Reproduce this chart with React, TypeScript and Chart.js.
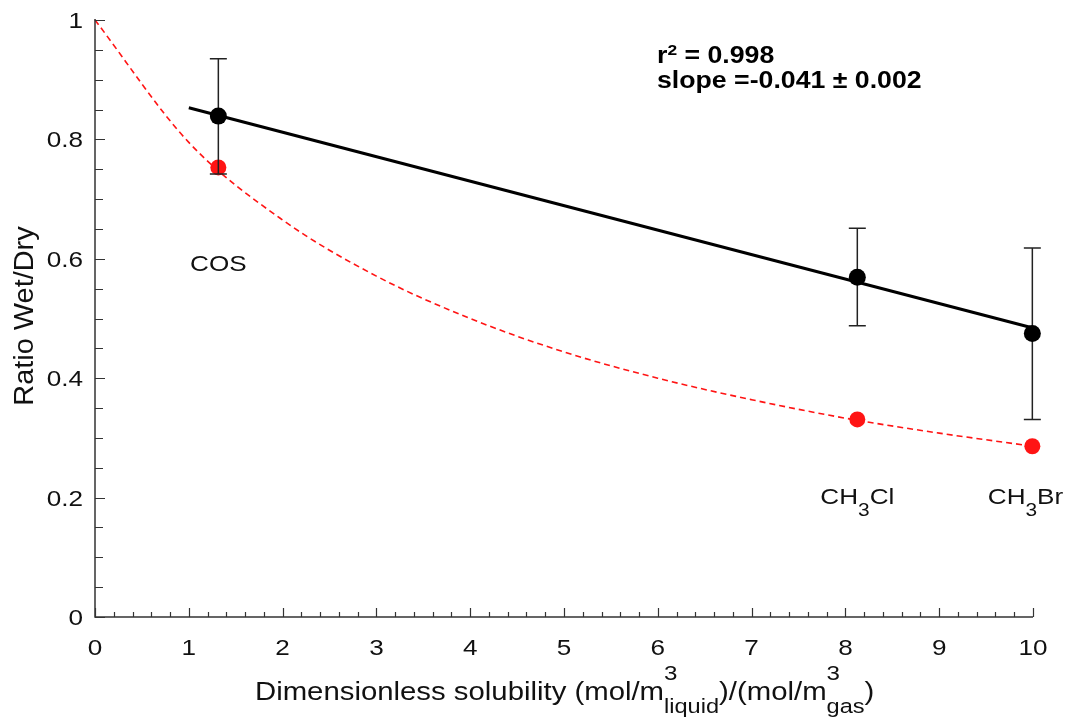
import React, { useEffect, useRef } from "react";
import { Chart, registerables } from "chart.js";

Chart.register(...registerables);

// ---- data ----
const compounds = ["COS", "CH3Cl", "CH3Br"];
const solubility = [1.315, 8.127, 9.993];
const ratioMeasured = [0.839, 0.569, 0.475];
const errUpper = [0.935, 0.651, 0.618];
const errLower = [0.742, 0.488, 0.331];
const ratioModel = [0.753, 0.331, 0.286];

const curveX = [0, 1, 2, 3, 4, 5, 6, 7, 8, 9, 10];
const curveY = [1.0, 0.795, 0.665, 0.571, 0.5, 0.444, 0.4, 0.364, 0.333, 0.308, 0.286];

const fitX = [1, 10];
const fitY = [0.853, 0.484];

const xTickLabels = ["0", "1", "2", "3", "4", "5", "6", "7", "8", "9", "10"];
const yTickLabels = ["0", "0.2", "0.4", "0.6", "0.8", "1"];

const labelX = [1.315, 8.127, 9.92];
const labelY = [0.58, 0.19, 0.19];

const annotationLine1 = ["r", "2", " = 0.998"];
const annotationLine2 = "slope =-0.041 \u00B1 0.002";

const RED = "#ff1414";
const AXIS = "#333333";
const FAMILY = '"Liberation Sans", Arial, Helvetica, sans-serif';
const SX = 1.16;

type Seg = { t: string; size: number; dy: number; bold?: boolean; stack?: boolean };

function font(size: number, bold?: boolean) {
  return `${bold ? "bold " : ""}${size}px ${FAMILY}`;
}

function drawRich(
  ctx: CanvasRenderingContext2D,
  segs: Seg[],
  x: number,
  y: number,
  align: "left" | "center" | "right",
  sx: number,
  color: string
) {
  ctx.save();
  ctx.textBaseline = "alphabetic";
  ctx.textAlign = "left";
  const pos: number[] = [];
  let cx = 0;
  let i = 0;
  while (i < segs.length) {
    const s = segs[i];
    ctx.font = font(s.size, s.bold);
    const w = ctx.measureText(s.t).width;
    if (s.stack && i + 1 < segs.length) {
      const n = segs[i + 1];
      ctx.font = font(n.size, n.bold);
      const w2 = ctx.measureText(n.t).width;
      pos[i] = cx;
      pos[i + 1] = cx;
      cx += Math.max(w, w2);
      i += 2;
    } else {
      pos[i] = cx;
      cx += w;
      i += 1;
    }
  }
  const total = cx * sx;
  let start = x;
  if (align === "center") start = x - total / 2;
  else if (align === "right") start = x - total;
  ctx.translate(start, y);
  ctx.scale(sx, 1);
  ctx.fillStyle = color;
  segs.forEach((s, k) => {
    ctx.font = font(s.size, s.bold);
    ctx.fillText(s.t, pos[k], s.dy);
  });
  ctx.restore();
}

function chemSegs(name: string, size: number): Seg[] {
  const m = name.match(/^([A-Za-z]+?)(\d)(.*)$/);
  if (!m) return [{ t: name, size, dy: 0 }];
  return [
    { t: m[1], size, dy: 0 },
    { t: m[2], size: size * 0.8, dy: 12 },
    { t: m[3], size, dy: 0 },
  ];
}

const overlayPlugin = {
  id: "overlay",
  beforeDatasetDraw(chart: any, args: any) {
    if (args.index !== 3) return;
    const ctx = chart.ctx as CanvasRenderingContext2D;
    const xs = chart.scales.x;
    const ys = chart.scales.y;
    ctx.save();
    ctx.strokeStyle = "#222";
    ctx.lineWidth = 1.5;
    solubility.forEach((sv, i) => {
      const px = xs.getPixelForValue(sv);
      const top = ys.getPixelForValue(errUpper[i]);
      const bot = ys.getPixelForValue(errLower[i]);
      ctx.beginPath();
      ctx.moveTo(px, top);
      ctx.lineTo(px, bot);
      ctx.moveTo(px - 8.5, top);
      ctx.lineTo(px + 8.5, top);
      ctx.moveTo(px - 8.5, bot);
      ctx.lineTo(px + 8.5, bot);
      ctx.stroke();
    });
    ctx.restore();
  },
  afterDraw(chart: any) {
    const ctx = chart.ctx as CanvasRenderingContext2D;
    const xs = chart.scales.x;
    const ys = chart.scales.y;
    const area = chart.chartArea;
    ctx.save();
    ctx.strokeStyle = AXIS;
    ctx.lineWidth = 1.5;
    ctx.beginPath();
    ctx.moveTo(area.left, area.top - 1);
    ctx.lineTo(area.left, area.bottom);
    ctx.lineTo(area.right, area.bottom);
    ctx.stroke();
    ctx.lineWidth = 1.2;
    ctx.beginPath();
    const xMax = Number(xTickLabels[xTickLabels.length - 1]);
    for (let k = 0; k <= xMax * 5; k++) {
      const v = k / 5;
      const px = Math.round(xs.getPixelForValue(v)) + 0.5;
      const len = k % 5 === 0 ? 9 : 5;
      ctx.moveTo(px, area.bottom);
      ctx.lineTo(px, area.bottom - len);
    }
    const yMax = Number(yTickLabels[yTickLabels.length - 1]);
    for (let k = 0; k <= yMax * 20; k++) {
      const v = k / 20;
      const py = Math.round(ys.getPixelForValue(v)) + 0.5;
      const len = k % 4 === 0 ? 10 : 8;
      ctx.moveTo(area.left, py);
      ctx.lineTo(area.left + len, py);
    }
    ctx.stroke();
    ctx.restore();

    xTickLabels.forEach((lab) => {
      const px = xs.getPixelForValue(Number(lab));
      drawRich(ctx, [{ t: lab, size: 22.5, dy: 0 }], px, area.bottom + 38, "center", SX, "#111");
    });
    yTickLabels.forEach((lab) => {
      const py = ys.getPixelForValue(Number(lab));
      drawRich(ctx, [{ t: lab, size: 22.5, dy: 0 }], area.left - 12, py + 8, "right", SX, "#111");
    });

    drawRich(
      ctx,
      [
        { t: "Dimensionless solubility (mol/m", size: 25.5, dy: 0 },
        { t: "3", size: 21, dy: -20, stack: true },
        { t: "liquid", size: 20.5, dy: 13 },
        { t: ")/(mol/m", size: 25.5, dy: 0 },
        { t: "3", size: 21, dy: -20, stack: true },
        { t: "gas", size: 20.5, dy: 13 },
        { t: ")", size: 25.5, dy: 0 },
      ],
      255,
      700,
      "left",
      1.15,
      "#111"
    );

    ctx.save();
    ctx.translate(33, 316);
    ctx.rotate(-Math.PI / 2);
    ctx.scale(1.07, 1);
    ctx.font = font(27);
    ctx.fillStyle = "#111";
    ctx.textAlign = "center";
    ctx.textBaseline = "alphabetic";
    ctx.fillText("Ratio Wet/Dry", 0, 0);
    ctx.restore();

    compounds.forEach((c, i) => {
      const px = xs.getPixelForValue(labelX[i]);
      const py = ys.getPixelForValue(labelY[i]);
      drawRich(ctx, chemSegs(c, 22.5), px, py, "center", SX, "#111");
    });

    drawRich(
      ctx,
      [
        { t: annotationLine1[0], size: 23, dy: 0, bold: true },
        { t: annotationLine1[1], size: 15, dy: -8, bold: true },
        { t: annotationLine1[2], size: 23, dy: 0, bold: true },
      ],
      657,
      63,
      "left",
      SX,
      "#000"
    );
    drawRich(ctx, [{ t: annotationLine2, size: 23, dy: 0, bold: true }], 657, 88, "left", SX, "#000");
  },
};

export default function App() {
  const ref = useRef<HTMLCanvasElement | null>(null);
  useEffect(() => {
    document.body.style.margin = "0";
    const canvas = ref.current;
    if (!canvas) return;
    const chart = new Chart(canvas, {
      type: "scatter",
      data: {
        datasets: [
          {
            type: "line",
            data: curveX.map((x, i) => ({ x, y: curveY[i] })),
            borderColor: RED,
            borderWidth: 1.6,
            borderDash: [6, 4],
            pointRadius: 0,
            cubicInterpolationMode: "monotone",
            fill: false,
            clip: false,
            order: 4,
          } as any,
          {
            type: "line",
            data: fitX.map((x, i) => ({ x, y: fitY[i] })),
            borderColor: "#000",
            borderWidth: 3,
            pointRadius: 0,
            fill: false,
            clip: false,
            order: 3,
          } as any,
          {
            data: solubility.map((x, i) => ({ x, y: ratioModel[i] })),
            pointRadius: 8,
            backgroundColor: RED,
            borderWidth: 0,
            clip: false,
            order: 2,
          } as any,
          {
            data: solubility.map((x, i) => ({ x, y: ratioMeasured[i] })),
            pointRadius: 8.5,
            backgroundColor: "#000",
            borderWidth: 0,
            clip: false,
            order: 1,
          } as any,
        ],
      },
      options: {
        responsive: false,
        animation: false,
        events: [],
        layout: { padding: { top: 20, right: 32, left: 0, bottom: 0 } },
        plugins: { legend: { display: false }, tooltip: { enabled: false } },
        scales: {
          x: {
            type: "linear",
            min: 0,
            max: 10,
            ticks: { display: false, stepSize: 1 },
            grid: { display: false, drawTicks: false },
            border: { display: false },
            afterFit: (s: any) => {
              s.height = 100;
            },
          },
          y: {
            type: "linear",
            min: 0,
            max: 1,
            ticks: { display: false, stepSize: 0.2 },
            grid: { display: false, drawTicks: false },
            border: { display: false },
            afterFit: (s: any) => {
              s.width = 95;
            },
          },
        },
      } as any,
      plugins: [overlayPlugin],
    });
    return () => chart.destroy();
  }, []);
  return (
    <div style={{ width: 1065, height: 717, background: "#fff" }}>
      <canvas ref={ref} width={1065} height={717} style={{ display: "block" }} />
    </div>
  );
}
